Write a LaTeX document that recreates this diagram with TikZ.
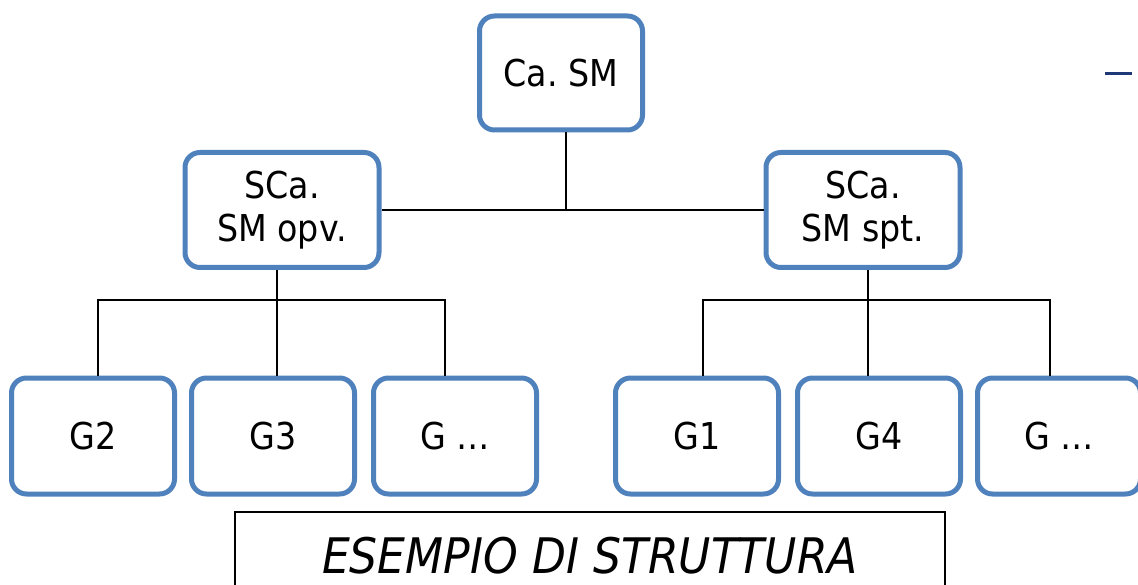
\documentclass[tikz,border=0pt]{standalone}
\usepackage{fontspec}
\setmainfont{DejaVu Sans}[FakeStretch=0.9]
\frenchspacing
\definecolor{boxblue}{RGB}{79,129,189}
\definecolor{dashblue}{RGB}{31,56,120}
\tikzset{
  unit/.style={draw=boxblue, line width=5pt, rounded corners=15pt, fill=white,
    align=center, font=\fontsize{37}{43}\selectfont, inner sep=0pt},
  link/.style={line width=2pt, black}
}
\begin{document}
\begin{tikzpicture}[x=1pt, y=-1pt]
\useasboundingbox (0,0) rectangle (1138,585);
\clip (0,0) rectangle (1138,585);
% vertici
\node[unit, minimum width=163pt, minimum height=114pt] (ca) at (561,73) {Ca. SM};
\node[unit, minimum width=194pt, minimum height=115pt] (opv) at (282,210) {SCa.\\SM opv.};
\node[unit, minimum width=194pt, minimum height=115pt] (spt) at (863,210) {SCa.\\SM spt.};
% gruppi
\node[unit, minimum width=163pt, minimum height=116pt] (g2) at (93,436) {G2};
\node[unit, minimum width=163pt, minimum height=116pt] (g3) at (273,436) {G3};
\node[unit, minimum width=163pt, minimum height=116pt] (gl) at (455,436) {G \dots};
\node[unit, minimum width=163pt, minimum height=116pt] (g1) at (697,436) {G1};
\node[unit, minimum width=163pt, minimum height=116pt] (g4) at (879,436) {G4};
\node[unit, minimum width=163pt, minimum height=116pt] (gr) at (1059,436) {G \dots};
\coordinate (bus) at (0,300);
% collegamenti
\draw[link] ([xshift=5pt]ca.south) -- ([xshift=5pt]ca.south |- opv.east);
\draw[link] (opv.east) -- (spt.west);
\draw[link] ([xshift=-5pt]opv.south) -- ([xshift=4pt]g3.north);
\draw[link] ([xshift=5pt]g2.north) |- ([xshift=-10pt]gl.north |- bus) -- ([xshift=-10pt]gl.north);
\draw[link] ([xshift=5pt]spt.south) -- ([xshift=-11pt]g4.north);
\draw[link] ([xshift=6pt]g1.north) |- ([xshift=-9pt]gr.north |- bus) -- ([xshift=-9pt]gr.north);
% didascalia
\node[draw, line width=1.5pt, minimum width=710pt, minimum height=88pt,
  font=\fontsize{49}{60}\selectfont\itshape] (cap) at (590,556) {ESEMPIO DI STRUTTURA};
\fill[dashblue] (1105,72) rectangle (1132,75);
\end{tikzpicture}
\end{document}
